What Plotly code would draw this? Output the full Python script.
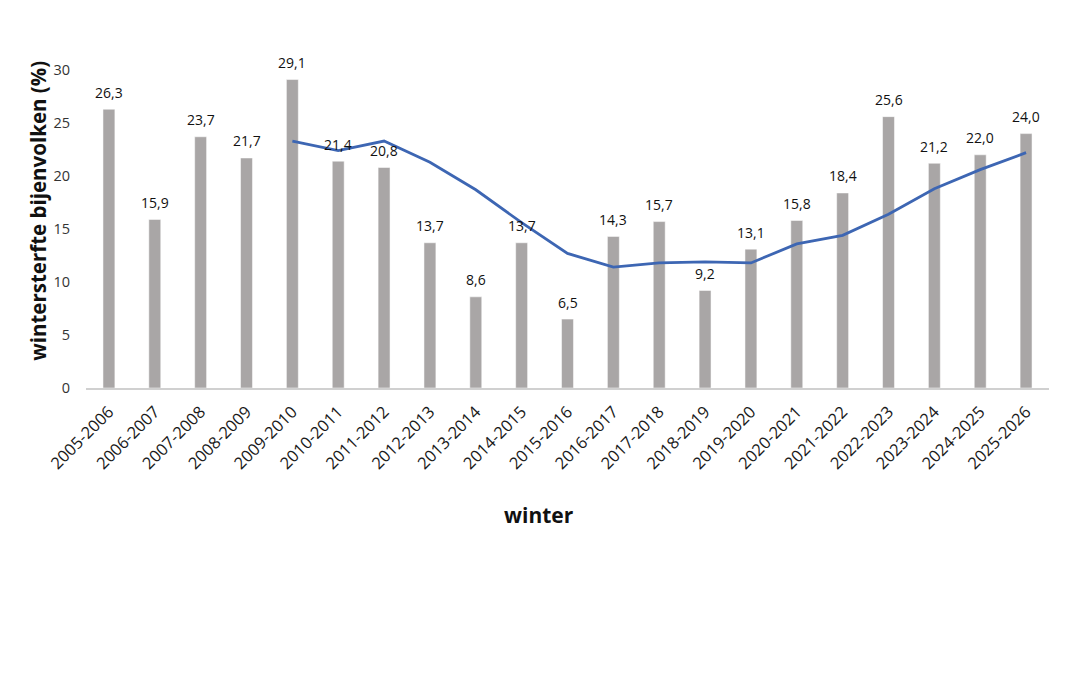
import plotly.graph_objects as go

winters = ["2005-2006", "2006-2007", "2007-2008", "2008-2009", "2009-2010",
           "2010-2011", "2011-2012", "2012-2013", "2013-2014", "2014-2015",
           "2015-2016", "2016-2017", "2017-2018", "2018-2019", "2019-2020",
           "2020-2021", "2021-2022", "2022-2023", "2023-2024", "2024-2025",
           "2025-2026"]
sterfte = [26.3, 15.9, 23.7, 21.7, 29.1, 21.4, 20.8, 13.7, 8.6, 13.7, 6.5,
           14.3, 15.7, 9.2, 13.1, 15.8, 18.4, 25.6, 21.2, 22.0, 24.0]

# trend line (starts at 2009-2010)
trend_winters = winters[4:]
trend = [23.3, 22.4, 23.3, 21.3, 18.7, 15.6, 12.7, 11.4, 11.8, 11.9, 11.8,
         13.6, 14.4, 16.4, 18.8, 20.6, 22.2]

fig = go.Figure()
fig.add_trace(go.Bar(x=winters, y=sterfte, marker_color="#a9a6a6"))
fig.add_trace(go.Scatter(
    x=trend_winters, y=trend, mode="lines",
    line=dict(color="#3d66b3", width=2.8),
))

# value labels above the bars
for w, v in zip(winters, sterfte):
    fig.add_annotation(
        x=w, y=v, text=f"{v:.1f}".replace(".", ","), showarrow=False,
        yanchor="middle", yshift=17,
        font=dict(size=14, color="#111111"),
    )

# axis titles as annotations so they can sit where the original has them
fig.add_annotation(
    xref="paper", yref="paper", x=0, y=0.557, xshift=-48,
    xanchor="center", yanchor="middle",
    text="<b>wintersterfte bijenvolken (%)</b>", textangle=-90,
    showarrow=False, font=dict(size=20.5, color="#111111"),
)
fig.add_annotation(
    xref="paper", yref="paper", x=0.5, y=0, xshift=-29, yshift=-127,
    text="<b>winter</b>", showarrow=False, yanchor="middle",
    font=dict(size=21, color="#111111"),
)

fig.update_layout(
    width=1070, height=682,
    template="simple_white",
    separators=",.",
    showlegend=False,
    bargap=0.74,
    font=dict(family="Open Sans", color="#222222"),
    margin=dict(l=78, r=29, t=62, b=302),
    paper_bgcolor="white", plot_bgcolor="white",
)
fig.update_xaxes(
    tickangle=-45, ticks="", showline=True, linecolor="#d0d0d0", linewidth=1.5,
    tickfont=dict(size=16.5, color="#1a1a1a"), ticklabelstandoff=6,
)
fig.update_yaxes(
    range=[0, 30], dtick=5, ticks="", showline=False, showgrid=False,
    zeroline=False, ticklabelstandoff=15,
    tickfont=dict(size=14.5, color="#333333"),
)

fig.write_html("out.html")
